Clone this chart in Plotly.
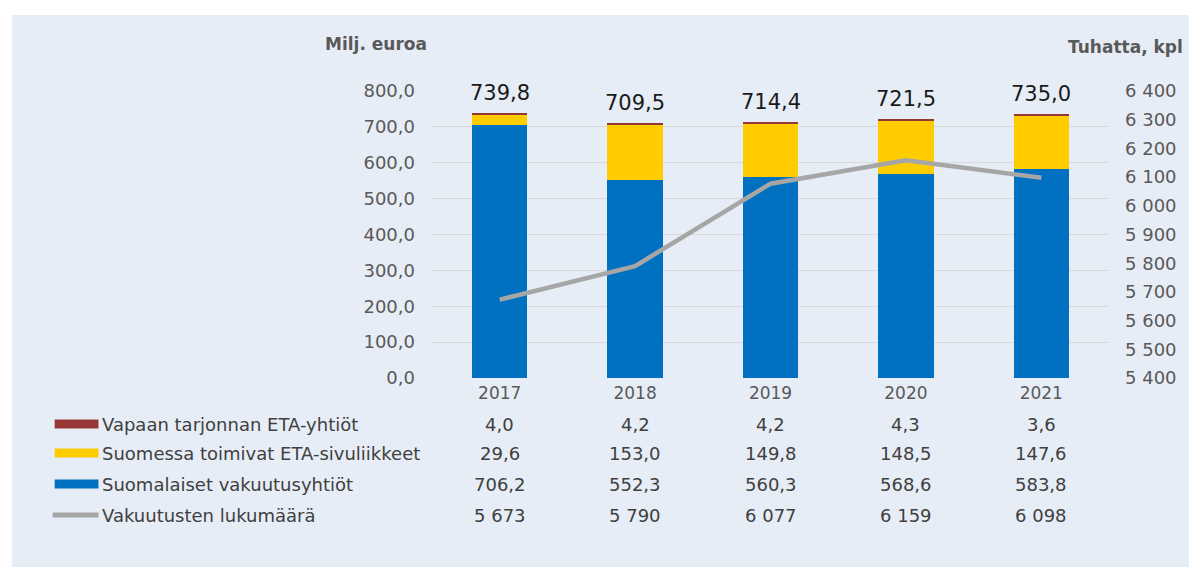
import plotly.graph_objects as go

# ---- data ----
years = ["2017", "2018", "2019", "2020", "2021"]
vapaan = [4.0, 4.2, 4.2, 4.3, 3.6]
sivuliikkeet = [29.6, 153.0, 149.8, 148.5, 147.6]
suomalaiset = [706.2, 552.3, 560.3, 568.6, 583.8]
lukumaara = [5673, 5790, 6077, 6159, 6098]
totals = [739.8, 709.5, 714.4, 721.5, 735.0]

series_names = [
    "Vapaan tarjonnan ETA-yhtiöt",
    "Suomessa toimivat ETA-sivuliikkeet",
    "Suomalaiset vakuutusyhtiöt",
    "Vakuutusten lukumäärä",
]
colors = {"vapaan": "#953735", "siv": "#FFCC00", "suom": "#0070C0", "luk": "#A6A6A6"}

# ---- geometry (pixels) ----
W, H = 1189, 567
L, R, T, B = 432, 1112, 91, 378
FONT = "DejaVu Sans, sans-serif"


def px_x(p):
    return (p - L) / (R - L)


def px_y(p):
    return (B - p) / (B - T)


def fmt1(v):
    return f"{v:.1f}".replace(".", ",")


def fmt_int(v):
    return f"{v:,d}".replace(",", " ")


fig = go.Figure()
fig.add_bar(x=years, y=suomalaiset, marker=dict(color=colors["suom"], line_width=0),
            width=0.41, name=series_names[2])
fig.add_bar(x=years, y=sivuliikkeet, marker=dict(color=colors["siv"], line_width=0),
            width=0.41, name=series_names[1])
fig.add_bar(x=years, y=vapaan, marker=dict(color=colors["vapaan"], line_width=0),
            width=0.41, name=series_names[0])
fig.add_scatter(x=years, y=lukumaara, yaxis="y2", mode="lines",
                line=dict(color=colors["luk"], width=4.5), name=series_names[3])

annotations = []
# totals above bars (x given as category index)
for i, tot in enumerate(totals):
    annotations.append(dict(x=i, y=tot, xref="x", yref="y", text=fmt1(tot),
                            showarrow=False, yanchor="middle", yshift=20,
                            font=dict(family=FONT, size=21, color="#1A1A1A")))

# axis titles
annotations.append(dict(x=px_x(376), y=px_y(44), xref="paper", yref="paper",
                        text="<b>Milj. euroa</b>", showarrow=False,
                        xanchor="center", yanchor="middle",
                        font=dict(family=FONT, size=17, color="#595959")))
annotations.append(dict(x=px_x(1188), y=px_y(47), xref="paper", yref="paper",
                        text="<b>Tuhatta, kpl</b>", showarrow=False,
                        xanchor="right", yanchor="middle",
                        font=dict(family=FONT, size=17, color="#595959")))

# data table
row_y = [424, 453, 484, 515]
row_vals = [
    [fmt1(v) for v in vapaan],
    [fmt1(v) for v in sivuliikkeet],
    [fmt1(v) for v in suomalaiset],
    [fmt_int(v) for v in lukumaara],
]
sym_colors = [colors["vapaan"], colors["siv"], colors["suom"], colors["luk"]]
shapes = [
    dict(type="rect", xref="paper", yref="paper", x0=px_x(10), x1=px_x(W + 5),
         y0=px_y(15), y1=px_y(H + 5), fillcolor="#E7EDF6", line_width=0, layer="below"),
]
for i, (ry, name, vals) in enumerate(zip(row_y, series_names, row_vals)):
    annotations.append(dict(x=px_x(99), y=px_y(ry), xref="paper", yref="paper",
                            text=name, showarrow=False, xanchor="left", yanchor="middle",
                            font=dict(family=FONT, size=18, color="#404040")))
    for j, v in enumerate(vals):
        annotations.append(dict(x=j, y=px_y(ry), xref="x", yref="paper", text=v,
                                showarrow=False, xanchor="center", yanchor="middle",
                                font=dict(family=FONT, size=18, color="#404040")))
    if i < 3:
        shapes.append(dict(type="rect", xref="paper", yref="paper",
                           x0=px_x(53), x1=px_x(97), y0=px_y(ry - 4.5), y1=px_y(ry + 4.5),
                           fillcolor=sym_colors[i], line_width=0))
    else:
        shapes.append(dict(type="line", xref="paper", yref="paper",
                           x0=px_x(51), x1=px_x(97), y0=px_y(ry), y1=px_y(ry),
                           line=dict(color=sym_colors[i], width=5)))

xtickfont = dict(family=FONT, size=17, color="#595959")
ytickfont = dict(family=FONT, size=18, color="#595959")
fig.update_layout(
    width=W, height=H,
    margin=dict(l=L, r=W - R, t=T, b=H - B, pad=0),
    paper_bgcolor="white",
    plot_bgcolor="rgba(0,0,0,0)",
    barmode="stack",
    showlegend=False,
    separators=", ",
    font=dict(family=FONT, size=17, color="#595959"),
    xaxis=dict(type="category", range=[-0.5, 4.5], showgrid=False, showline=False,
               ticks="", ticklabelstandoff=3, tickfont=xtickfont),
    yaxis=dict(range=[0, 800], dtick=100, tickformat=".1f", showgrid=True,
               gridcolor="#D9D9D9", gridwidth=1, zeroline=False, showline=False,
               ticks="", ticklabelstandoff=16, tickfont=ytickfont),
    yaxis2=dict(range=[5400, 6400], dtick=100, tickformat=",d", overlaying="y",
                side="right", showgrid=False, zeroline=False, showline=False,
                ticks="", ticklabelstandoff=15, tickfont=ytickfont),
    annotations=annotations,
    shapes=shapes,
)

fig.write_html("out.html")
